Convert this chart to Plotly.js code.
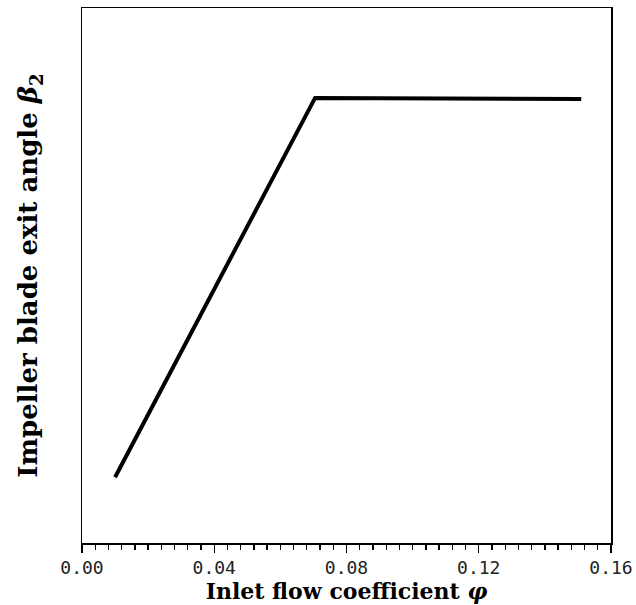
<!DOCTYPE html>
<html>
<head>
<meta charset="utf-8">
<script src="https://cdn.plot.ly/plotly-3.0.1.min.js"></script>
<style>html,body{margin:0;padding:0;background:#fff;}#chart{width:636px;height:605px;}</style>
</head>
<body>
<div id="chart"></div>
<script>
// Inlet flow coefficient (phi) values of the line's vertices
const phi = [0.010, 0.0705, 0.151];
// Impeller blade exit angle (arbitrary scale, no y ticks in original)
const beta2 = [12.3, 83.2, 83.0];
const xTickVals = [0.00, 0.04, 0.08, 0.12, 0.16];
const xTickText = ["0.00", "0.04", "0.08", "0.12", "0.16"];

const trace = {
  x: phi, y: beta2, type: 'scatter', mode: 'lines',
  line: {color: '#000', width: 4}, hoverinfo: 'skip'
};

const layout = {
  width: 636, height: 605,
  margin: {l: 82, r: 25, t: 8, b: 62},
  paper_bgcolor: '#fff', plot_bgcolor: '#fff',
  showlegend: false,
  xaxis: {
    range: [0, 0.16], tickvals: xTickVals, ticktext: xTickText,
    ticks: 'outside', ticklen: 8, tickwidth: 1.3, tickcolor: '#000',
    minor: {dtick: 0.004, ticks: 'outside', ticklen: 5, tickwidth: 1.3, tickcolor: '#000', showgrid: false},
    showgrid: false, zeroline: false,
    showline: true, linecolor: '#000', linewidth: 1.5, mirror: true,
    tickfont: {family: 'DejaVu Sans Mono', size: 18, color: '#222'},
    title: {text: 'Inlet flow coefficient <i>φ</i>', font: {family: 'DejaVu Serif', size: 22, weight: 'bold', color: '#000'}, standoff: 0},
    automargin: false
  },
  yaxis: {
    range: [0, 100], showticklabels: false, ticks: '',
    showgrid: false, zeroline: false,
    showline: true, linecolor: '#000', linewidth: 1.5, mirror: true,
    title: {text: 'Impeller blade exit angle <i>β</i><sub>2</sub>', font: {family: 'DejaVu Serif', size: 26, weight: 'bold', color: '#000'}, standoff: 35},
    automargin: false
  }
};

Plotly.newPlot('chart', [trace], layout, {staticPlot: true, displayModeBar: false});
</script>
</body>
</html>
